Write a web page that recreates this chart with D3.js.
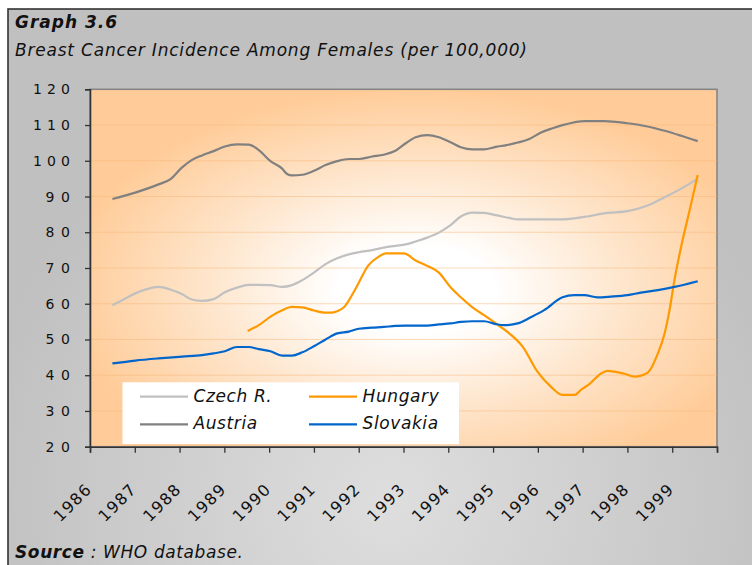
<!DOCTYPE html>
<html><head><meta charset="utf-8">
<script src="https://cdn.jsdelivr.net/npm/d3@7"></script>
<style>
html,body{margin:0;padding:0;background:#fff;}
svg text{font-family:"DejaVu Sans",Verdana,sans-serif;}
</style></head>
<body><svg id="chart" width="752" height="565"></svg>
<script>
// ---------- data ----------
const title = "Graph 3.6";
const subtitle = "Breast Cancer Incidence Among Females (per 100,000)";
const sourceLabel = "Source";
const sourceText = " : WHO database.";
const yearLabels = ["1986","1987","1988","1989","1990","1991","1992","1993","1994","1995","1996","1997","1998","1999"];
const yTicks = [20,30,40,50,60,70,80,90,100,110,120];
const seriesNames = ["Czech R.","Hungary","Austria","Slovakia"];
const seriesColors = ["#c0c0c0","#ff9900","#808080","#0066cc"];

const czechT = [0,0.25,0.51,0.77,1.03,1.29,1.55,1.77,2.0,2.26,2.51,2.78,3.04,3.27,3.53,3.79,4.01,4.24,4.50,4.76,5.02,5.28,5.50,5.80,6.06,6.32,6.55,6.77,7.03,7.29,7.55,7.78,8.04,8.30,8.56,8.90,9.05,9.57,10.05,10.54,11.06,11.50,11.95,12.33,12.70,13.07];
const czechV = [59.6,61.2,62.9,64.1,64.7,64.0,62.7,61.2,60.8,61.3,63.2,64.5,65.3,65.3,65.2,64.7,65.2,66.6,68.7,71.1,72.7,73.8,74.4,75.0,75.7,76.2,76.6,77.4,78.5,79.9,82.0,84.4,85.5,85.4,84.8,83.9,83.6,83.6,83.6,84.3,85.4,85.9,87.5,89.8,92.2,95.0];

const hungaryT = [3.02,3.27,3.53,3.79,4.01,4.24,4.50,4.76,4.87,5.02,5.17,5.43,5.72,5.95,6.10,6.51,6.77,7.03,7.29,7.55,7.78,8.04,8.30,8.56,8.90,9.16,9.49,9.79,10.05,10.33,10.46,10.65,10.91,11.06,11.21,11.43,11.66,11.95,12.18,12.33,12.44,12.55,12.70,12.89,13.07];
const hungaryV = [52.4,54.0,56.4,58.2,59.1,59.0,58.1,57.5,57.5,57.9,59.0,64.2,70.8,73.2,74.1,74.1,72.1,70.6,68.7,64.6,61.8,59.0,56.8,54.5,51.3,48.0,41.0,36.8,34.5,34.5,35.9,37.5,40.5,41.2,41.0,40.4,39.6,40.7,46.1,51.7,58.2,66.6,76.0,86.2,96.0];

const austriaT = [0,0.51,1.03,1.29,1.55,1.77,2.0,2.26,2.51,2.78,3.04,3.27,3.53,3.79,3.90,4.01,4.24,4.50,4.76,5.02,5.28,5.50,5.80,6.06,6.32,6.55,6.77,7.03,7.29,7.55,7.78,8.04,8.30,8.56,8.80,9.05,9.31,9.57,9.83,10.09,10.54,10.98,11.50,11.95,12.33,12.70,13.07];
const austriaV = [89.3,91.1,93.4,94.8,98.1,100.2,101.5,102.7,104.0,104.6,104.5,103.0,99.9,97.8,96.3,95.9,96.1,97.2,98.8,99.9,100.5,100.5,101.2,101.7,102.8,104.9,106.6,107.2,106.6,105.2,103.8,103.2,103.2,103.9,104.4,105.1,106.1,107.9,109.1,110.1,111.1,111.1,110.5,109.6,108.4,107.0,105.5];

const slovakiaT = [0,0.51,1.03,1.55,2.0,2.26,2.51,2.78,3.04,3.27,3.53,3.79,4.01,4.24,4.50,4.76,5.02,5.28,5.50,5.80,6.06,6.32,6.55,7.03,7.29,7.55,7.78,8.04,8.30,8.56,8.75,9.05,9.34,9.64,10.05,10.31,10.54,10.83,11.13,11.50,11.80,12.18,12.55,13.07];
const slovakiaV = [43.3,44.1,44.7,45.2,45.6,46.1,46.7,47.9,47.9,47.3,46.7,45.5,45.5,46.4,48.1,50.0,51.7,52.2,53.0,53.3,53.5,53.8,53.9,53.9,54.2,54.5,54.9,55.1,55.1,54.3,54.0,54.5,56.2,58.2,61.8,62.4,62.4,61.8,62.0,62.4,63.1,63.8,64.7,66.3];

const seriesT = [czechT, hungaryT, austriaT, slovakiaT];
const seriesV = [czechV, hungaryV, austriaV, slovakiaV];
const baseYear = 1986;

// ---------- layout ----------
const svg = d3.select("#chart");
const plot = {left:90, right:717, top:89.3, bottom:446.7};
const x = d3.scaleLinear().domain([baseYear-0.5, baseYear+yearLabels.length-0.5]).range([plot.left, plot.right]);
const y = d3.scaleLinear().domain([20,120]).range([plot.bottom, plot.top]);

const defs = svg.append("defs");
const bgGrad = defs.append("radialGradient").attr("id","bgGrad")
  .attr("gradientUnits","userSpaceOnUse").attr("cx",390).attr("cy",500).attr("r",420);
bgGrad.append("stop").attr("offset",0).attr("stop-color","#dedede");
bgGrad.append("stop").attr("offset",0.3).attr("stop-color","#d5d5d5");
bgGrad.append("stop").attr("offset",1).attr("stop-color","#c0c0c0");

const plotGrad = defs.append("radialGradient").attr("id","plotGrad")
  .attr("cx",0.52).attr("cy",0.56).attr("r",0.56);
plotGrad.append("stop").attr("offset",0).attr("stop-color","#ffffff");
plotGrad.append("stop").attr("offset",0.22).attr("stop-color","#ffffff");
plotGrad.append("stop").attr("offset",0.6).attr("stop-color","#fee5cb");
plotGrad.append("stop").attr("offset",1).attr("stop-color","#ffcc99");

// chart area
svg.append("rect").attr("x",8).attr("y",9).attr("width",760).attr("height",570)
  .attr("fill","url(#bgGrad)").attr("stroke","#333").attr("stroke-width",1.6);

// plot area
svg.append("rect").attr("x",plot.left).attr("y",plot.top)
  .attr("width",plot.right-plot.left).attr("height",plot.bottom-plot.top)
  .attr("fill","url(#plotGrad)").attr("stroke","#858585").attr("stroke-width",1.6);

// gridlines
svg.append("g").selectAll("line").data(yTicks.filter(d=>d>20 && d<120)).join("line")
  .attr("x1",plot.left).attr("x2",plot.right)
  .attr("y1",d=>y(d)).attr("y2",d=>y(d))
  .attr("stroke","#f7b77a").attr("stroke-opacity",0.5).attr("stroke-width",1);

// title texts
svg.append("text").attr("x",15).attr("y",28.3).text(title)
  .attr("font-size",17).attr("font-weight","bold").attr("font-style","italic")
  .attr("fill","#111").attr("textLength",102).attr("lengthAdjust","spacing");
svg.append("text").attr("x",15).attr("y",56).text(subtitle)
  .attr("font-size",17).attr("font-style","italic").attr("fill","#111")
  .attr("textLength",512).attr("lengthAdjust","spacing");

// source
const src = svg.append("text").attr("x",15).attr("y",558.3).attr("font-size",17).attr("fill","#111")
  .attr("textLength",228).attr("lengthAdjust","spacing");
src.append("tspan").attr("font-weight","bold").attr("font-style","italic").text(sourceLabel);
src.append("tspan").attr("font-style","italic").text(sourceText);

// y axis
const yAxis = svg.append("g").attr("transform",`translate(${plot.left},0)`)
  .call(d3.axisLeft(y).tickValues(yTicks).tickSize(5).tickFormat(d3.format("d")));
yAxis.select(".domain").attr("stroke","#333").attr("stroke-width",1.6);
yAxis.selectAll(".tick line").attr("stroke","#333").attr("stroke-width",1.3);
const yLabLen = d => String(d).length * 12.3;
yAxis.selectAll(".tick text").attr("font-size",14).attr("fill","#111")
  .attr("font-family","DejaVu Sans")
  .attr("text-anchor","start")
  .attr("x", d => -20 - yLabLen(d))
  .attr("textLength", yLabLen).attr("lengthAdjust","spacing");

// x axis (ticks at category boundaries)
const bounds = d3.range(yearLabels.length+1).map(i => baseYear - 0.5 + i);
const xAxis = svg.append("g").attr("transform",`translate(0,${plot.bottom})`)
  .call(d3.axisBottom(x).tickValues(bounds).tickSize(6).tickFormat(""));
xAxis.select(".domain").attr("stroke","#333").attr("stroke-width",1.6);
xAxis.selectAll(".tick line").attr("stroke","#333").attr("stroke-width",1.3);

// x labels
const xLabLen = 45;
svg.append("g").selectAll("text").data(yearLabels).join("text")
  .attr("transform",(d,i)=>`translate(${x(baseYear - 0.5 + i)+2},491) rotate(-45)`)
  .attr("text-anchor","start").attr("x",-xLabLen).attr("font-size",16).attr("fill","#111")
  .attr("textLength",xLabLen).attr("lengthAdjust","spacing").text(d=>d);

// lines
const line = d3.line().x(d=>x(baseYear + d[0])).y(d=>y(d[1])).curve(d3.curveMonotoneX);
const g = svg.append("g");
seriesNames.forEach((name,i)=>{
  const pts = seriesT[i].map((t,j)=>[t, seriesV[i][j]]);
  g.append("path").datum(pts).attr("d",line).attr("fill","none")
    .attr("stroke",seriesColors[i]).attr("stroke-width",2.2).attr("stroke-linejoin","round");
});

// legend
const lg = svg.append("g");
lg.append("rect").attr("x",122.5).attr("y",382.3).attr("width",336.5).attr("height",61.7).attr("fill","#fff");
const legPos = [[140,396.7],[309,396.7],[140,424.3],[309,424.3]];
seriesNames.forEach((name,i)=>{
  const [lx,ly] = legPos[i];
  lg.append("line").attr("x1",lx).attr("x2",lx+48).attr("y1",ly).attr("y2",ly)
    .attr("stroke",seriesColors[i]).attr("stroke-width",2.2);
  lg.append("text").attr("x",lx+53.5).attr("y",ly+5).attr("font-size",17)
    .attr("font-style","italic").attr("fill","#111").style("letter-spacing","0.6px").text(name);
});
</script></body></html>
